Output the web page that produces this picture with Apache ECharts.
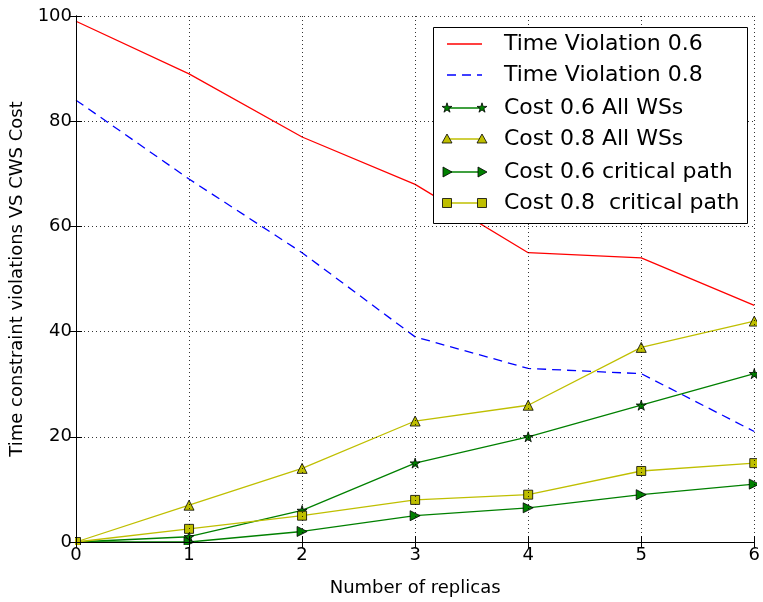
<!DOCTYPE html>
<html><head><meta charset="utf-8">
<script src="https://cdn.jsdelivr.net/npm/echarts@6/dist/echarts.min.js"></script>
<style>html,body{margin:0;padding:0;background:#fff}#c{width:763px;height:602px}</style>
</head><body><div id="c"></div>
<script>
var replicas = [0, 1, 2, 3, 4, 5, 6];
var timeViolation06 = [99, 89, 77, 68, 55, 54, 45];
var timeViolation08 = [84, 69, 55, 39, 33, 32, 21];
var cost06All = [0, 1, 6, 15, 20, 26, 32];
var cost08All = [0, 7, 14, 23, 26, 37, 42];
var cost06Crit = [0, 0, 2, 5, 6.5, 9, 11];
var cost08Crit = [0, 2.5, 5, 8, 9, 13.5, 15];
var seriesNames = ['Time Violation 0.6', 'Time Violation 0.8', 'Cost 0.6 All WSs', 'Cost 0.8 All WSs', 'Cost 0.6 critical path', 'Cost 0.8  critical path'];
var xTicks = [0, 1, 2, 3, 4, 5, 6];
var yTicks = [0, 20, 40, 60, 80, 100];

var FONT = 'DejaVu Sans';
var RED = '#ff0000', BLUE = '#0000ff', GREEN = '#008000', YEL = '#bfbf00';
var STAR = 'path://M10,0 L12.25,6.91 L19.51,6.91 L13.63,11.18 L15.88,18.09 L10,13.82 L4.12,18.09 L6.37,11.18 L0.49,6.91 L7.75,6.91 Z';
var DASH = [9, 6];

function pairs(v) { return replicas.map(function (x, i) { return [x, v[i]]; }); }

function lineSeries(name, vals, color, opts) {
  return {
    name: name, type: 'line', data: pairs(vals),
    lineStyle: { color: color, width: 1.3, type: opts.dash || 'solid' },
    itemStyle: { color: color, borderColor: '#000', borderWidth: 0.8 },
    symbol: opts.symbol || 'none', symbolSize: opts.size || 9,
    symbolRotate: opts.rotate || 0,
    showSymbol: !!opts.symbol, animation: false, z: opts.z, clip: false
  };
}

var chart = echarts.init(document.getElementById('c'));

var gL = 75, gT = 16, gR = 6, gB = 57;
var W = 763, H = 602;

// white masks outside plot area (mimic marker clipping at frame)
var MZ = 50;
var g = [
  { type: 'rect', shape: { x: 0, y: 0, width: gL, height: H }, style: { fill: '#fff' }, z: MZ, silent: true },
  { type: 'rect', shape: { x: 0, y: H - gB, width: W, height: gB }, style: { fill: '#fff' }, z: MZ, silent: true },
  { type: 'rect', shape: { x: W - gR, y: 0, width: gR, height: H }, style: { fill: '#fff' }, z: MZ, silent: true },
  { type: 'rect', shape: { x: 0, y: 0, width: W, height: gT }, style: { fill: '#fff' }, z: MZ, silent: true }
];

// legend
var lgLeft = 433, lgTop = 27, lgW = 314, lgH = 196;
var rowY = [44, 75, 108, 139, 172, 203];
var x1 = 447, x2 = 482, tx = 504;
g.push({
  type: 'rect', shape: { x: lgLeft + 0.5, y: lgTop + 0.5, width: lgW, height: lgH },
  style: { fill: '#fff', stroke: '#000', lineWidth: 1 }, z: 100
});
function starPts(cx, cy, r) {
  var pts = [];
  for (var i = 0; i < 10; i++) {
    var a = -Math.PI / 2 + i * Math.PI / 5;
    var rr = i % 2 === 0 ? r : r * 0.382;
    pts.push([cx + rr * Math.cos(a), cy + rr * Math.sin(a)]);
  }
  return pts;
}
function marker(kind, cx, cy, color) {
  var st = { fill: color, stroke: '#000', lineWidth: 0.8 };
  if (kind === 'star') return { type: 'polygon', shape: { points: starPts(cx, cy, 5.2) }, style: st, z: 102 };
  if (kind === 'tri') return { type: 'polygon', shape: { points: [[cx, cy - 5], [cx + 5, cy + 4], [cx - 5, cy + 4]] }, style: st, z: 102 };
  if (kind === 'rtri') return { type: 'polygon', shape: { points: [[cx - 4, cy - 5], [cx + 5, cy], [cx - 4, cy + 5]] }, style: st, z: 102 };
  return { type: 'rect', shape: { x: cx - 4.5, y: cy - 4.5, width: 9, height: 9 }, style: st, z: 102 };
}
var lgDefs = [
  { color: RED, dash: null, mk: null },
  { color: BLUE, dash: DASH, mk: null },
  { color: GREEN, dash: null, mk: 'star' },
  { color: YEL, dash: null, mk: 'tri' },
  { color: GREEN, dash: null, mk: 'rtri' },
  { color: YEL, dash: null, mk: 'sq' }
];
lgDefs.forEach(function (d, i) {
  var y = rowY[i];
  g.push({ type: 'line', shape: { x1: x1, y1: y, x2: x2, y2: y },
    style: { stroke: d.color, lineWidth: 1.3, lineDash: d.dash }, z: 101 });
  if (d.mk) { g.push(marker(d.mk, x1, y, d.color)); g.push(marker(d.mk, x2, y, d.color)); }
  g.push({ type: 'text', x: tx, y: y, z: 103,
    style: { text: seriesNames[i], fill: '#000', font: '22px "DejaVu Sans"', textVerticalAlign: 'middle' } });
});

var axisLineStyle = { show: true, lineStyle: { color: '#000', width: 1 } };
var gridLine = { show: true, lineStyle: { color: '#000', width: 0.8, type: [1, 3] } };
var tick = { show: true, inside: true, length: 6, lineStyle: { color: '#000' } };
var AZ = 60;

chart.setOption({
  animation: false,
  backgroundColor: '#fff',
  grid: { left: gL, top: gT, right: gR, bottom: gB, show: false },
  xAxis: [{
    type: 'value', min: 0, max: 6, interval: 1, position: 'bottom', z: AZ,
    name: 'Number of replicas', nameLocation: 'middle', nameGap: 37,
    nameTextStyle: { fontFamily: FONT, fontSize: 18, color: '#000' },
    axisLine: axisLineStyle, axisTick: tick,
    axisLabel: { fontFamily: FONT, fontSize: 18, color: '#000', margin: 4,
      formatter: function (v) { return xTicks.indexOf(v) >= 0 ? String(v) : ''; } },
    splitLine: gridLine
  }, {
    type: 'value', min: 0, max: 6, interval: 1, position: 'top', z: AZ,
    axisLine: axisLineStyle, axisTick: tick,
    axisLabel: { show: false }, splitLine: { show: false }
  }],
  yAxis: [{
    type: 'value', min: 0, max: 100, interval: 20, position: 'left', z: AZ,
    name: 'Time constraint violations VS CWS Cost', nameLocation: 'middle', nameGap: 50,
    nameTextStyle: { fontFamily: FONT, fontSize: 18, color: '#000' },
    axisLine: axisLineStyle, axisTick: tick,
    axisLabel: { fontFamily: FONT, fontSize: 18, color: '#000', margin: 4,
      formatter: function (v) { return yTicks.indexOf(v) >= 0 ? String(v) : ''; } },
    splitLine: gridLine
  }, {
    type: 'value', min: 0, max: 100, interval: 20, position: 'right', z: AZ,
    axisLine: axisLineStyle, axisTick: tick,
    axisLabel: { show: false }, splitLine: { show: false }
  }],
  series: [
    lineSeries(seriesNames[0], timeViolation06, RED, { z: 2 }),
    lineSeries(seriesNames[1], timeViolation08, BLUE, { dash: DASH, z: 3 }),
    lineSeries(seriesNames[2], cost06All, GREEN, { symbol: STAR, size: 10, z: 4 }),
    lineSeries(seriesNames[3], cost08All, YEL, { symbol: 'triangle', size: 10, z: 5 }),
    lineSeries(seriesNames[4], cost06Crit, GREEN, { symbol: 'triangle', rotate: -90, size: 10, z: 6 }),
    lineSeries(seriesNames[5], cost08Crit, YEL, { symbol: 'rect', size: 9, z: 7 })
  ],
  graphic: g
});
</script></body></html>
